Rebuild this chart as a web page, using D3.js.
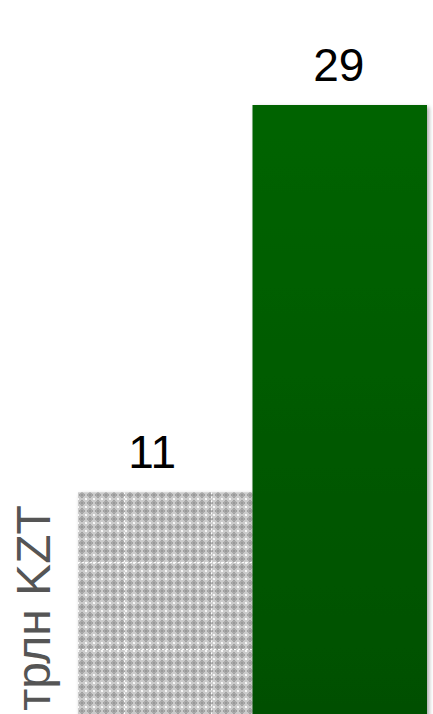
<!DOCTYPE html>
<html>
<head>
<meta charset="utf-8">
<script src="https://cdn.jsdelivr.net/npm/d3@7"></script>
<style>
  html, body { margin: 0; padding: 0; background: #fff; overflow: hidden; }
  svg { display: block; }
</style>
</head>
<body>
<svg id="chart" width="433" height="714"></svg>
<script>
// ---- data ----
const categories = ["A", "B"];
const values = [11.2, 29];
const labels = ["11", "29"];
const axisTitle = "трлн KZT";
const gridTicks = [4, 8, 12, 16, 20, 24, 28];

// ---- layout ----
const W = 433, H = 714;
const svg = d3.select("#chart");
const defs = svg.append("defs");

const x = d3.scaleBand().domain(categories).range([78, 427]).padding(0);
const y = d3.scaleLinear().domain([0, 29]).range([736, 105]);

// pattern for gray bar
const pat = defs.append("pattern")
  .attr("id", "chk").attr("patternUnits", "userSpaceOnUse")
  .attr("width", 8).attr("height", 8).attr("x", 78).attr("y", 491);
pat.append("rect").attr("width", 8).attr("height", 8).attr("fill", "#cbcbcb");
pat.append("rect").attr("x", 1).attr("y", 3).attr("width", 6).attr("height", 2).attr("fill", "#a0a0a0");
pat.append("rect").attr("x", 3).attr("y", 1).attr("width", 2).attr("height", 6).attr("fill", "#a0a0a0");
pat.append("rect").attr("x", 2).attr("y", 2).attr("width", 4).attr("height", 4).attr("fill", "#aaaaaa");
pat.append("rect").attr("x", 3).attr("y", 3).attr("width", 2).attr("height", 2).attr("fill", "#999999");
pat.append("rect").attr("x", 0).attr("y", 0).attr("width", 1).attr("height", 1).attr("fill", "#fbfbfb");
pat.append("rect").attr("x", 7).attr("y", 7).attr("width", 1).attr("height", 1).attr("fill", "#fbfbfb");
pat.append("rect").attr("x", 7).attr("y", 0).attr("width", 1).attr("height", 1).attr("fill", "#f5f5f5");
pat.append("rect").attr("x", 0).attr("y", 7).attr("width", 1).attr("height", 1).attr("fill", "#f5f5f5");

// gradient for green bar
const grad = defs.append("linearGradient").attr("id", "grn")
  .attr("x1", 0).attr("y1", 0).attr("x2", 0).attr("y2", 1);
grad.append("stop").attr("offset", "0%").attr("stop-color", "#006400");
grad.append("stop").attr("offset", "100%").attr("stop-color", "#004f00");

// shadow filter
const f = defs.append("filter").attr("id", "shadow")
  .attr("x", "-10%").attr("y", "-10%").attr("width", "130%").attr("height", "130%");
f.append("feGaussianBlur").attr("in", "SourceAlpha").attr("stdDeviation", 2.2).attr("result", "b");
f.append("feOffset").attr("in", "b").attr("dx", 2).attr("dy", 2).attr("result", "o");
f.append("feComponentTransfer").attr("in", "o").attr("result", "s")
  .append("feFuncA").attr("type", "linear").attr("slope", 0.35);
const m = f.append("feMerge");
m.append("feMergeNode").attr("in", "s");
m.append("feMergeNode").attr("in", "SourceGraphic");

// clip for grid on gray bar
defs.append("clipPath").attr("id", "grayclip")
  .append("rect")
  .attr("x", x(categories[0])).attr("y", y(values[0]))
  .attr("width", x.bandwidth()).attr("height", y(0) - y(values[0]));

const fills = ["url(#chk)", "url(#grn)"];

// gray bar
svg.append("rect")
  .attr("x", x(categories[0])).attr("y", y(values[0]))
  .attr("width", x.bandwidth()).attr("height", y(0) - y(values[0]))
  .attr("fill", fills[0]).attr("filter", "url(#shadow)");

// grid lines visible through gray bar
const step = y(0) - y(4);
const g = svg.append("g").attr("clip-path", "url(#grayclip)");
g.selectAll("line.h").data(gridTicks).enter().append("line")
  .attr("x1", x(categories[0])).attr("x2", x(categories[0]) + x.bandwidth())
  .attr("y1", d => y(d) + 0.5).attr("y2", d => y(d) + 0.5)
  .attr("stroke", "#ffffff").attr("stroke-width", 1).attr("stroke-dasharray", "2,2");
g.selectAll("line.v").data([0, 1]).enter().append("line")
  .attr("x1", d => x(categories[0]) + 46.5 + d * step).attr("x2", d => x(categories[0]) + 46.5 + d * step)
  .attr("y1", y(values[0])).attr("y2", H)
  .attr("stroke", "#ffffff").attr("stroke-width", 1).attr("stroke-dasharray", "2,2");

// green bar
svg.append("rect")
  .attr("x", x(categories[1])).attr("y", y(values[1]))
  .attr("width", x.bandwidth()).attr("height", y(0) - y(values[1]))
  .attr("fill", fills[1]).attr("filter", "url(#shadow)");

// value labels
const dxs = [-13, -1];
svg.selectAll("text.val").data(categories).enter().append("text")
  .attr("class", "val")
  .attr("x", (d, i) => x(d) + x.bandwidth() / 2 + dxs[i])
  .attr("y", (d, i) => y(values[i]) - 24)
  .attr("text-anchor", "middle")
  .attr("font-family", "Liberation Sans, Arial, sans-serif")
  .attr("font-size", 46)
  .attr("fill", "#000")
  .text((d, i) => labels[i]);

// axis title
svg.append("text")
  .attr("transform", "translate(50,608) rotate(-90)")
  .attr("text-anchor", "middle")
  .attr("font-family", "Liberation Sans, Arial, sans-serif")
  .attr("font-size", 48)
  .attr("fill", "#555555")
  .text(axisTitle);
</script>
</body>
</html>
